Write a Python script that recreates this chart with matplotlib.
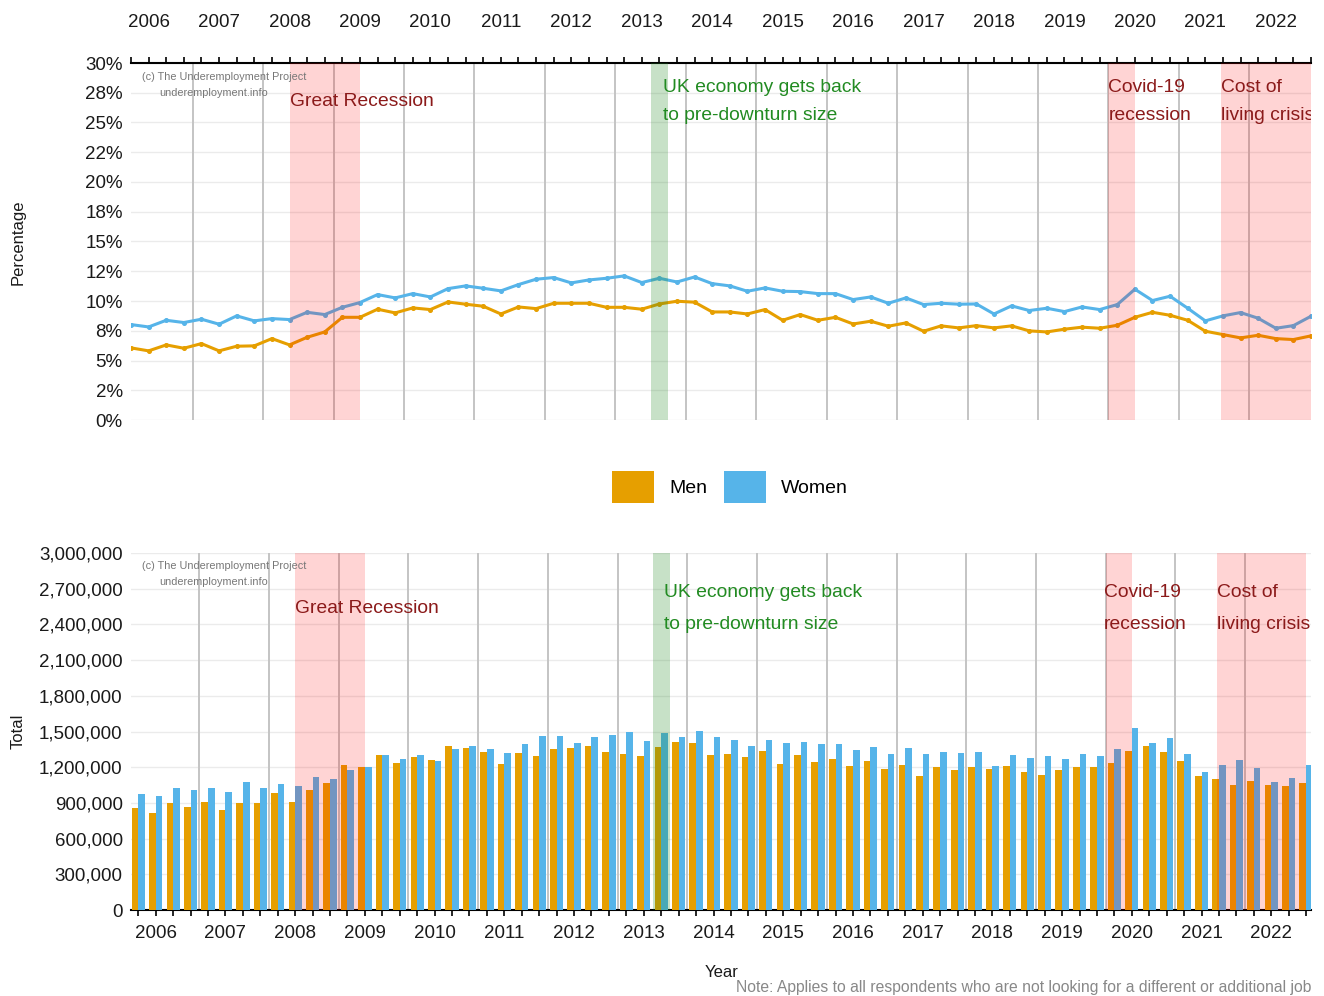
import matplotlib
matplotlib.use('Agg')
import matplotlib.pyplot as plt
from matplotlib.patches import Patch
import numpy as np

plt.rcParams['font.family'] = ['Liberation Sans', 'DejaVu Sans']

# ---------------- data (quarterly, 2005 Q4 .. 2022 Q3) ----------------
years = list(range(2006, 2023))

men_pct = [6.06, 5.81, 6.31, 6.03, 6.42, 5.81, 6.20, 6.23, 6.84, 6.31, 6.95, 7.40,
           8.63, 8.63, 9.31, 9.00, 9.42, 9.28, 9.92, 9.73, 9.56, 8.91, 9.50, 9.36,
           9.81, 9.81, 9.81, 9.47, 9.47, 9.31, 9.75, 9.98, 9.90, 9.08, 9.08, 8.91,
           9.28, 8.38, 8.86, 8.38, 8.63, 8.07, 8.30, 7.88, 8.16, 7.46, 7.91, 7.74,
           7.93, 7.74, 7.91, 7.49, 7.40, 7.63, 7.80, 7.71, 7.96, 8.63, 9.05, 8.80,
           8.38, 7.46, 7.18, 6.90, 7.12, 6.84, 6.76, 7.07]

women_pct = [8.02, 7.82, 8.38, 8.19, 8.47, 8.05, 8.75, 8.33, 8.52, 8.44, 9.05, 8.86,
             9.47, 9.87, 10.54, 10.26, 10.62, 10.34, 11.04, 11.27, 11.07, 10.85, 11.38, 11.83,
             11.97, 11.52, 11.77, 11.91, 12.11, 11.55, 11.91, 11.60, 12.02, 11.46, 11.27, 10.82,
             11.10, 10.82, 10.79, 10.62, 10.62, 10.12, 10.34, 9.81, 10.26, 9.70, 9.81, 9.73,
             9.75, 8.91, 9.59, 9.20, 9.39, 9.11, 9.50, 9.28, 9.70, 10.99, 10.04, 10.40,
             9.39, 8.33, 8.75, 9.03, 8.55, 7.71, 7.93, 8.72]

men_total = [855000, 812000, 899000, 863000, 905000, 840000, 899000, 899000, 980000, 905000,
             1006000, 1064000, 1216000, 1204000, 1300000, 1238000, 1288000, 1263000, 1381000, 1364000,
             1330000, 1229000, 1322000, 1297000, 1353000, 1364000, 1381000, 1330000, 1313000, 1297000,
             1372000, 1414000, 1406000, 1305000, 1313000, 1288000, 1339000, 1229000, 1305000, 1246000,
             1272000, 1213000, 1255000, 1188000, 1221000, 1129000, 1199000, 1180000, 1199000, 1188000,
             1213000, 1157000, 1132000, 1174000, 1204000, 1204000, 1233000, 1339000, 1378000, 1330000,
             1255000, 1129000, 1104000, 1053000, 1087000, 1053000, 1045000, 1070000]

women_total = [975000, 955000, 1022000, 1006000, 1022000, 989000, 1073000, 1022000, 1056000, 1045000,
               1120000, 1098000, 1174000, 1204000, 1300000, 1272000, 1305000, 1255000, 1353000, 1381000,
               1353000, 1322000, 1397000, 1465000, 1465000, 1406000, 1456000, 1471000, 1496000, 1423000,
               1490000, 1454000, 1504000, 1454000, 1429000, 1381000, 1429000, 1406000, 1412000, 1395000,
               1395000, 1345000, 1372000, 1313000, 1364000, 1313000, 1330000, 1322000, 1330000, 1213000,
               1305000, 1280000, 1297000, 1272000, 1313000, 1297000, 1356000, 1527000, 1406000, 1445000,
               1313000, 1162000, 1221000, 1263000, 1195000, 1078000, 1112000, 1218000]

pct_ticks = [0, 2.5, 5, 7.5, 10, 12.5, 15, 17.5, 20, 22.5, 25, 27.5, 30]
pct_labels = ['0%', '2%', '5%', '8%', '10%', '12%', '15%', '18%', '20%', '22%', '25%', '28%', '30%']
total_ticks = [0, 300000, 600000, 900000, 1200000, 1500000, 1800000, 2100000, 2400000, 2700000, 3000000]
total_labels = ['0', '300,000', '600,000', '900,000', '1,200,000', '1,500,000', '1,800,000',
                '2,100,000', '2,400,000', '2,700,000', '3,000,000']

red_periods = [(9.0, 13.0), (55.5, 57.0), (61.9, 67.0)]
green_period = (29.5, 30.5)

# ---------------- styling ----------------
W, H = 1324, 996
ORANGE = '#E69F00'
BLUE = '#56B4E9'
DARKRED = '#8B1A1A'
GREEN = '#228B22'
TXT = '#1a1a1a'
AFS = 13.9

n = len(men_pct)
idx = np.arange(n)
label_pos = [1 + 4 * k for k in range(len(years))]
vline_pos = [3.5 + 4 * k for k in range(16)]

fig = plt.figure(figsize=(W / 100, H / 100), dpi=100)
ax1 = fig.add_axes([131 / W, 1 - 420 / H, 1180 / W, 357 / H])
ax2 = fig.add_axes([131 / W, 1 - 910 / H, 1180 / W, 357 / H])

for ax in (ax1, ax2):
    for s in ax.spines.values():
        s.set_visible(False)
    ax.yaxis.grid(True, color='#EBEBEB', lw=1.0, zorder=0)
    ax.set_axisbelow(True)
    for xv in vline_pos:
        ax.axvline(xv, color='#C4C4C4', lw=1.4, zorder=1)
    for a, b in red_periods:
        ax.axvspan(a, b, color='red', alpha=0.17, lw=0, zorder=4)
    ax.axvspan(green_period[0], green_period[1], color=GREEN, alpha=0.25, lw=0, zorder=4)
    ax.set_xticks(label_pos)
    ax.set_xticklabels([str(y) for y in years])
    ax.set_xticks(idx, minor=True)
    ax.tick_params(axis='y', length=0, pad=6, labelsize=13.5, labelcolor=TXT)

# ---- top chart ----
ax1.plot(idx, men_pct, color=ORANGE, lw=2.2, marker='o', ms=2.6, zorder=3)
ax1.plot(idx, women_pct, color=BLUE, lw=2.2, marker='o', ms=2.6, zorder=3)
ax1.set_xlim(0, 67)
ax1.set_ylim(0, 30)
ax1.set_yticks(pct_ticks)
ax1.set_yticklabels(pct_labels)
ax1.spines['top'].set_visible(True)
ax1.spines['top'].set_color('black')
ax1.spines['top'].set_linewidth(1.5)
ax1.xaxis.tick_top()
ax1.tick_params(axis='x', which='both', top=True, bottom=False, labeltop=True,
                labelbottom=False, length=4.5, width=1.2, color='black')
ax1.tick_params(axis='x', which='major', pad=18.5, labelsize=13.5, labelcolor=TXT)

# ---- bottom chart ----
bw = 0.38
ax2.bar(idx - bw / 2, men_total, width=bw, color=ORANGE, lw=0, zorder=3)
ax2.bar(idx + bw / 2, women_total, width=bw, color=BLUE, lw=0, zorder=3)
ax2.set_xlim(-0.42, 67.28)
ax2.set_ylim(0, 3000000)
ax2.set_yticks(total_ticks)
ax2.set_yticklabels(total_labels)
ax2.spines['bottom'].set_visible(True)
ax2.spines['bottom'].set_color('black')
ax2.spines['bottom'].set_linewidth(1.5)
ax2.tick_params(axis='x', which='both', length=4.5, width=1.2, color='black')
ax2.tick_params(axis='x', which='major', pad=6.5, labelsize=13.5, labelcolor=TXT)

# ---- annotations ----
def annotate(ax, ys, xs):
    y1, y2, ymid = ys
    xg, xu, xc, xl = xs
    kw = dict(fontsize=AFS, va='center', zorder=6, clip_on=True)
    ax.text(xg, ymid, 'Great Recession', color=DARKRED, **kw)
    ax.text(xu, y1, 'UK economy gets back', color=GREEN, **kw)
    ax.text(xu, y2, 'to pre-downturn size', color=GREEN, **kw)
    ax.text(xc, y1, 'Covid-19', color=DARKRED, **kw)
    ax.text(xc, y2, 'recession', color=DARKRED, **kw)
    ax.text(xl, y1, 'Cost of', color=DARKRED, **kw)
    ax.text(xl, y2, 'living crisis', color=DARKRED, **kw)

annotate(ax1, (27.9, 25.63, 26.8), (9.0, 30.2, 55.5, 61.9))
annotate(ax2, (2672000, 2403000, 2535000), (9.0, 30.15, 55.4, 61.9))

for ax, (ya, yb) in ((ax1, (0.961, 0.916)), (ax2, (0.9636, 0.9188))):
    ax.text(0.0093, ya, '(c) The Underemployment Project', transform=ax.transAxes,
            fontsize=7.8, color='#777777', va='center', zorder=6)
    ax.text(0.0237, yb, 'underemployment.info', transform=ax.transAxes,
            fontsize=7.8, color='#777777', va='center', zorder=6)

fig.text(18 / W, 1 - 242 / H, 'Percentage', rotation=90, ha='center', va='center',
         fontsize=12, color=TXT)
fig.text(18 / W, 1 - 731 / H, 'Total', rotation=90, ha='center', va='center',
         fontsize=12, color=TXT)
fig.text(722 / W, 1 - 972 / H, 'Year', ha='center', va='center', fontsize=12, color=TXT)
fig.text(1311 / W, 1 - 987 / H,
         'Note: Applies to all respondents who are not looking for a different or additional job',
         ha='right', va='center', fontsize=11.3, color='#888888')

fig.legend(handles=[Patch(fc=ORANGE, label='Men'), Patch(fc=BLUE, label='Women')],
           loc='center', bbox_to_anchor=(730 / W, 1 - 487 / H), ncol=2, frameon=False,
           fontsize=14, handlelength=2.15, handleheight=2.15, handletextpad=0.8,
           columnspacing=0.85)

fig.savefig('out.png', dpi=100)
